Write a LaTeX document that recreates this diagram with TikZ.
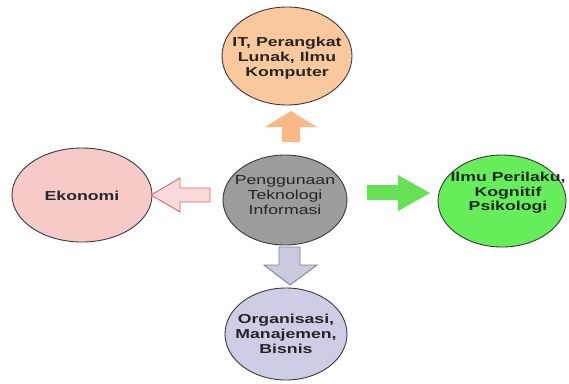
\documentclass[tikz,border=0pt]{standalone}
\usepackage{fontspec}
\setmainfont{Liberation Sans}[FakeStretch=1.36]
\usetikzlibrary{shapes.geometric}
\definecolor{orangeF}{HTML}{F9C89C}
\definecolor{orangeA}{HTML}{F8B986}
\definecolor{pinkF}{HTML}{F7CACA}
\definecolor{pinkA}{HTML}{FADADA}
\definecolor{pinkE}{HTML}{D9675F}
\definecolor{grayF}{HTML}{9C9C9C}
\definecolor{greenF}{HTML}{66EE5A}
\definecolor{greenA}{HTML}{66E055}
\definecolor{lavF}{HTML}{CDCDE6}
\definecolor{lavA}{HTML}{CACADF}
\definecolor{lavE}{HTML}{8080A0}
\definecolor{edgeC}{HTML}{3A3A3A}
\begin{document}
\begin{tikzpicture}[x=1pt,y=-1pt,
  bubble/.style={ellipse,draw=edgeC,line width=0.9pt,inner sep=0pt},
  txt/.style={align=center,inner sep=0pt,font=\fontsize{13}{15}\selectfont\bfseries,text=black!85},
  txtreg/.style={txt,font=\fontsize{13}{15}\selectfont},
  blockarrow/.style={line width=0.9pt}]
\useasboundingbox (0,0) rectangle (569,383);
\fill[white] (0,0) rectangle (569,383);
\node[bubble,fill=orangeF,minimum width=130pt,minimum height=98pt] (top) at (287,56) {};
\node[txt] (topt) at ([yshift=-2pt]top) {IT, Perangkat\\Lunak, Ilmu\\Komputer};
\node[bubble,fill=grayF,minimum width=124pt,minimum height=90pt] (mid) at (285,200) {};
\node[txtreg] (midt) at ([yshift=5pt]mid) {Penggunaan\\Teknologi\\Informasi};
\node[bubble,fill=pinkF,minimum width=140pt,minimum height=94pt] (left) at (82,195) {};
\node[txt] (leftt) at ([yshift=-1pt]left) {Ekonomi};
\node[bubble,fill=greenF,minimum width=128pt,minimum height=92pt] (right) at (502,201) {};
\node[txt,font=\fontsize{13}{14.5}\selectfont\bfseries] (rightt) at ([xshift=6pt,yshift=8pt]right) {Ilmu Perilaku,\\Kognitif\\Psikologi};
\node[bubble,fill=lavF,minimum width=122pt,minimum height=92pt] (bot) at (286,334) {};
\node[txt] (bott) at (bot) {Organisasi,\\Manajemen,\\Bisnis};
% up arrow
\fill[orangeA] (282,142) -- (282,127) -- (265,127) -- (291,111) -- (317,127) -- (300,127) -- (300,142) -- cycle;
% left arrow
\filldraw[blockarrow,fill=pinkA,draw=pinkE] (210,188) -- (180,188) -- (180,178) -- (151,195) -- (180,212) -- (180,202) -- (210,202) -- cycle;
% right arrow
\fill[greenA] (367,185) -- (398,185) -- (398,175) -- (430,193) -- (398,211) -- (398,200) -- (367,200) -- cycle;
% down arrow
\filldraw[blockarrow,fill=lavA,draw=lavE] (279,247) -- (300,247) -- (300,265) -- (317,265) -- (290,285) -- (264,265) -- (279,265) -- cycle;
\end{tikzpicture}
\end{document}
